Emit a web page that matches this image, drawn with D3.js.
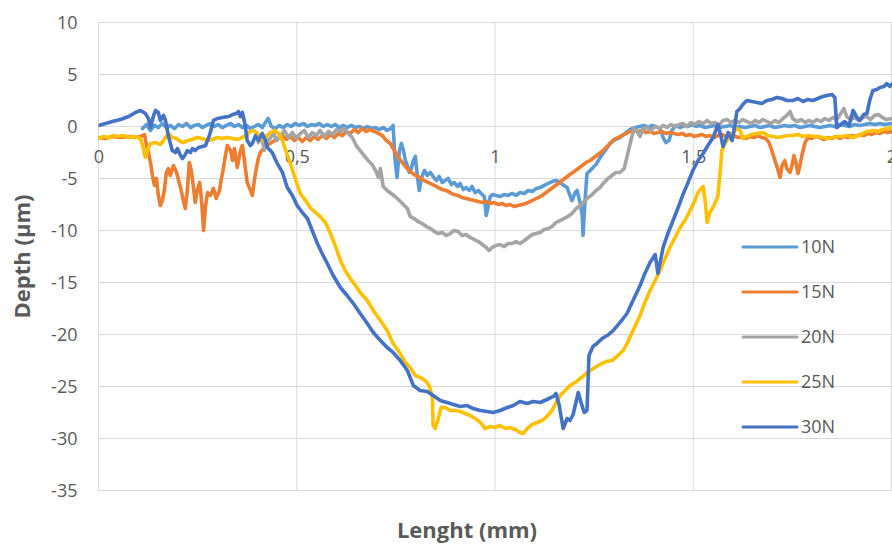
<!DOCTYPE html>
<html>
<head>
<meta charset="utf-8">
<script src="https://cdn.jsdelivr.net/npm/d3@7/dist/d3.min.js"></script>
<style>
  html, body { margin: 0; padding: 0; background: #ffffff; }
  svg { display: block; }
  text { font-family: "Open Sans", "Liberation Sans", sans-serif; }
</style>
</head>
<body>
<svg id="chart" width="892" height="544"></svg>
<script>
// ---- Data (length in mm, depth in µm) ----
const seriesNames = ["10N", "15N", "20N", "25N", "30N"];
const seriesColors = ["#5B9BD5", "#ED7D31", "#A5A5A5", "#FFC000", "#4472C4"];
const xTicks = [0, 0.5, 1, 1.5, 2];
const yTicks = [10, 5, 0, -5, -10, -15, -20, -25, -30, -35];

const s10N = [[0.111,-0.19],[0.121,0.19],[0.131,-0.38],[0.141,0.10],[0.151,-0.10],[0.161,0.29],[0.171,-0.10],[0.181,0.10],[0.192,-0.19],[0.202,0.19],[0.212,0],[0.222,0.29],[0.232,-0.10],[0.242,0.10],[0.252,0.19],[0.262,-0.10],[0.272,0.10],[0.282,0.29],[0.292,0],[0.302,0.19],[0.312,-0.10],[0.323,0.10],[0.333,0.29],[0.343,0],[0.353,0.19],[0.363,-0.10],[0.373,0.10],[0.383,-0.19],[0.393,0],[0.403,0.19],[0.413,-0.10],[0.421,0.38],[0.428,0.77],[0.436,0],[0.446,-0.19],[0.456,0.10],[0.466,-0.10],[0.476,0.19],[0.486,0],[0.496,0.29],[0.506,0.10],[0.517,0.29],[0.527,0],[0.537,0.19],[0.547,0.10],[0.557,0.29],[0.567,0],[0.577,0.19],[0.587,0],[0.597,0.19],[0.607,-0.10],[0.617,0.10],[0.627,-0.10],[0.638,0.10],[0.648,-0.10],[0.658,0],[0.668,-0.19],[0.678,0],[0.688,-0.19],[0.698,-0.10],[0.708,-0.29],[0.718,-0.10],[0.728,-0.38],[0.738,-0.19],[0.743,0.10],[0.748,-3.27],[0.753,-4.90],[0.759,-2.31],[0.764,-1.63],[0.769,-2.31],[0.774,-3.27],[0.779,-3.75],[0.784,-4.42],[0.789,-4.04],[0.794,-3.27],[0.799,-2.88],[0.804,-4.71],[0.809,-6.15],[0.814,-5.00],[0.822,-4.23],[0.829,-4.71],[0.837,-4.42],[0.844,-4.81],[0.852,-5.19],[0.859,-4.81],[0.867,-5.38],[0.874,-5.19],[0.882,-5.00],[0.890,-5.58],[0.897,-5.38],[0.905,-5.77],[0.912,-5.48],[0.920,-6.06],[0.927,-5.87],[0.935,-6.15],[0.942,-5.77],[0.950,-6.35],[0.958,-6.15],[0.965,-6.44],[0.973,-6.73],[0.978,-8.56],[0.983,-7.60],[0.988,-6.73],[0.995,-6.54],[1.003,-6.63],[1.013,-6.73],[1.023,-6.54],[1.033,-6.63],[1.043,-6.44],[1.053,-6.63],[1.063,-6.35],[1.074,-6.44],[1.084,-6.15],[1.094,-6.25],[1.104,-5.96],[1.114,-5.87],[1.124,-5.67],[1.134,-5.48],[1.144,-5.29],[1.154,-5.19],[1.164,-5.38],[1.174,-5.67],[1.182,-5.87],[1.189,-6.63],[1.194,-7.12],[1.202,-6.35],[1.207,-6.15],[1.215,-7.40],[1.220,-8.56],[1.222,-10.48],[1.227,-7.12],[1.232,-4.52],[1.240,-4.23],[1.247,-3.94],[1.255,-3.65],[1.265,-2.98],[1.278,-2.31],[1.290,-1.63],[1.303,-1.25],[1.315,-1.06],[1.328,-0.67],[1.341,-0.29],[1.353,-0.10],[1.366,0],[1.376,0.10],[1.386,-0.10],[1.396,0.10],[1.406,0],[1.416,-0.19],[1.424,-1.06],[1.431,-1.54],[1.439,-1.35],[1.446,-0.38],[1.456,0.10],[1.467,-0.10],[1.477,0.10],[1.487,0],[1.497,0.19],[1.507,0],[1.517,0.10],[1.530,-0.10],[1.542,0],[1.555,0.10],[1.567,-0.10],[1.580,0],[1.593,0.10],[1.605,-0.10],[1.618,0],[1.630,-0.10],[1.643,0],[1.656,0.10],[1.668,-0.10],[1.681,0],[1.693,0.10],[1.706,-0.10],[1.719,0],[1.731,0.10],[1.744,0],[1.756,0.10],[1.769,-0.10],[1.782,0],[1.794,0.10],[1.807,0],[1.819,-0.10],[1.832,0],[1.845,0.10],[1.857,0],[1.870,0.19],[1.882,0.10],[1.895,0],[1.907,0.19],[1.920,0.10],[1.933,0.19],[1.945,0.29],[1.958,0.19],[1.971,0.29],[1.983,0.19],[2.0,0.29]];

const s15N = [[0,-1.06],[0.018,-1.15],[0.035,-0.96],[0.055,-1.06],[0.076,-0.96],[0.093,-1.06],[0.106,-0.96],[0.116,-0.77],[0.121,-1.83],[0.126,-2.50],[0.131,-3.46],[0.136,-4.71],[0.141,-5.67],[0.146,-5.00],[0.151,-6.63],[0.156,-7.60],[0.161,-7.12],[0.166,-6.15],[0.171,-4.42],[0.176,-4.04],[0.181,-4.71],[0.189,-3.75],[0.197,-4.42],[0.202,-5.19],[0.207,-5.87],[0.214,-7.12],[0.219,-7.88],[0.224,-6.15],[0.229,-3.46],[0.234,-4.23],[0.239,-5.67],[0.244,-7.31],[0.249,-6.15],[0.255,-5.38],[0.260,-7.12],[0.265,-10.00],[0.270,-7.60],[0.275,-6.35],[0.282,-6.63],[0.290,-5.96],[0.297,-6.92],[0.305,-6.15],[0.310,-5.00],[0.315,-4.04],[0.320,-2.79],[0.325,-1.83],[0.333,-2.31],[0.338,-3.27],[0.343,-2.12],[0.350,-3.94],[0.358,-2.31],[0.363,-1.83],[0.368,-3.27],[0.375,-5.38],[0.383,-6.15],[0.388,-6.63],[0.393,-5.19],[0.398,-4.04],[0.403,-3.08],[0.408,-2.50],[0.416,-2.12],[0.423,-1.83],[0.433,-1.63],[0.444,-1.35],[0.454,-1.15],[0.464,-0.87],[0.474,-1.25],[0.484,-0.96],[0.494,-1.35],[0.504,-1.06],[0.514,-1.44],[0.524,-1.06],[0.534,-1.35],[0.544,-0.96],[0.554,-1.25],[0.564,-0.87],[0.575,-1.15],[0.585,-0.77],[0.595,-1.06],[0.605,-0.67],[0.615,-0.87],[0.625,-0.48],[0.635,-0.67],[0.645,-0.29],[0.655,-0.58],[0.665,-0.19],[0.675,-0.48],[0.685,-0.29],[0.696,-0.48],[0.706,-0.67],[0.716,-0.87],[0.726,-1.35],[0.736,-1.63],[0.746,-2.31],[0.756,-2.98],[0.766,-3.46],[0.776,-3.94],[0.786,-4.33],[0.796,-4.62],[0.806,-4.81],[0.816,-5.10],[0.827,-5.29],[0.837,-5.48],[0.847,-5.67],[0.857,-5.87],[0.867,-6.06],[0.877,-6.15],[0.887,-6.35],[0.897,-6.54],[0.907,-6.63],[0.917,-6.83],[0.927,-6.92],[0.937,-7.02],[0.948,-7.12],[0.958,-7.21],[0.968,-7.31],[0.978,-7.21],[0.988,-7.40],[0.998,-7.31],[1.008,-7.50],[1.018,-7.40],[1.028,-7.60],[1.038,-7.50],[1.048,-7.69],[1.058,-7.60],[1.068,-7.50],[1.079,-7.40],[1.089,-7.21],[1.099,-7.02],[1.109,-6.83],[1.119,-6.63],[1.129,-6.35],[1.139,-6.06],[1.149,-5.77],[1.159,-5.48],[1.169,-5.19],[1.179,-4.90],[1.189,-4.62],[1.200,-4.33],[1.210,-4.04],[1.220,-3.75],[1.230,-3.46],[1.240,-3.27],[1.250,-2.98],[1.260,-2.69],[1.270,-2.40],[1.280,-2.02],[1.290,-1.63],[1.300,-1.25],[1.310,-1.06],[1.320,-0.87],[1.331,-0.67],[1.341,-0.48],[1.351,-0.38],[1.361,-0.48],[1.371,-0.38],[1.381,-0.58],[1.391,-0.48],[1.401,-0.67],[1.411,-0.58],[1.421,-0.48],[1.431,-0.67],[1.441,-0.58],[1.452,-0.67],[1.462,-0.77],[1.472,-0.67],[1.482,-0.87],[1.492,-0.77],[1.502,-0.96],[1.512,-0.87],[1.522,-0.77],[1.532,-0.96],[1.542,-0.87],[1.552,-1.06],[1.562,-0.87],[1.572,-0.77],[1.583,-0.96],[1.593,-0.67],[1.603,-0.87],[1.613,-1.06],[1.623,-0.96],[1.633,-1.15],[1.643,-0.96],[1.653,-1.06],[1.663,-0.87],[1.673,-1.06],[1.683,-1.15],[1.691,-1.54],[1.698,-2.31],[1.706,-3.27],[1.714,-4.23],[1.719,-4.90],[1.724,-3.75],[1.731,-3.27],[1.736,-4.04],[1.744,-4.42],[1.749,-3.75],[1.754,-2.79],[1.759,-3.46],[1.764,-4.52],[1.769,-3.75],[1.774,-2.79],[1.782,-1.54],[1.789,-1.06],[1.799,-1.15],[1.809,-0.96],[1.819,-1.06],[1.830,-1.25],[1.840,-1.06],[1.850,-1.15],[1.860,-0.96],[1.870,-1.15],[1.880,-0.96],[1.890,-1.06],[1.900,-0.87],[1.910,-0.96],[1.920,-0.77],[1.930,-0.87],[1.940,-0.67],[1.950,-0.77],[1.960,-0.58],[1.971,-0.67],[1.981,-0.48],[1.991,-0.58],[2.0,-0.48]];

const s20N = [[0.403,-1.54],[0.411,-0.87],[0.418,-2.31],[0.426,-1.35],[0.433,-1.15],[0.441,-0.58],[0.449,-1.35],[0.459,-0.87],[0.469,-0.38],[0.479,-1.06],[0.489,-0.58],[0.499,-1.15],[0.509,-0.67],[0.519,-0.38],[0.529,-1.06],[0.539,-0.58],[0.549,-0.87],[0.559,-0.38],[0.570,-0.96],[0.580,-0.48],[0.590,-0.77],[0.600,-0.29],[0.610,-0.48],[0.620,-0.19],[0.630,-0.67],[0.640,-1.06],[0.650,-1.83],[0.660,-2.31],[0.670,-2.79],[0.680,-3.27],[0.690,-3.65],[0.701,-4.42],[0.706,-4.90],[0.711,-4.04],[0.718,-5.77],[0.728,-6.15],[0.738,-6.44],[0.748,-6.73],[0.759,-7.12],[0.769,-7.50],[0.779,-7.88],[0.786,-8.65],[0.796,-8.85],[0.806,-9.13],[0.816,-9.33],[0.827,-9.62],[0.837,-9.81],[0.847,-10.10],[0.857,-10.29],[0.867,-10.19],[0.877,-10.48],[0.887,-10.29],[0.897,-10.00],[0.907,-10.10],[0.917,-10.48],[0.927,-10.38],[0.937,-10.67],[0.948,-10.87],[0.958,-11.06],[0.968,-11.35],[0.978,-11.63],[0.985,-11.92],[0.993,-11.63],[1.003,-11.44],[1.013,-11.35],[1.023,-11.54],[1.033,-11.25],[1.043,-11.25],[1.053,-11.06],[1.063,-11.25],[1.074,-10.96],[1.084,-10.67],[1.094,-10.38],[1.104,-10.29],[1.114,-10.19],[1.124,-9.90],[1.134,-9.81],[1.144,-9.62],[1.154,-9.23],[1.164,-9.04],[1.174,-8.85],[1.184,-8.65],[1.194,-8.37],[1.205,-7.88],[1.215,-7.60],[1.225,-7.21],[1.235,-6.83],[1.245,-6.54],[1.255,-6.15],[1.265,-5.87],[1.275,-5.38],[1.285,-5.00],[1.295,-4.71],[1.305,-4.42],[1.315,-4.42],[1.326,-4.04],[1.333,-2.88],[1.341,-1.63],[1.346,-0.87],[1.351,-0.19],[1.358,-0.48],[1.366,-0.96],[1.373,-0.19],[1.383,-0.10],[1.393,-0.38],[1.404,0],[1.414,-0.19],[1.424,0.10],[1.434,-0.10],[1.444,0.19],[1.454,0],[1.464,0.19],[1.474,0.29],[1.484,0],[1.494,0.38],[1.504,0.19],[1.514,0.48],[1.525,0.29],[1.535,0.58],[1.545,0.29],[1.555,0.38],[1.565,0.10],[1.575,0.58],[1.585,0.67],[1.595,0.38],[1.605,0.58],[1.615,0.38],[1.625,0.67],[1.635,0.48],[1.646,0.29],[1.656,0.58],[1.666,0.38],[1.676,0.67],[1.686,0.48],[1.696,0.29],[1.706,0.58],[1.716,0.38],[1.726,0.77],[1.736,1.06],[1.744,1.44],[1.751,0.77],[1.761,0.48],[1.772,0.67],[1.782,0.38],[1.792,0.58],[1.802,0.38],[1.812,0.67],[1.822,0.48],[1.832,0.77],[1.842,0.58],[1.852,0.87],[1.862,0.67],[1.872,1.25],[1.880,1.73],[1.887,0.96],[1.897,0.67],[1.907,0.87],[1.917,0.58],[1.928,0.87],[1.938,0.96],[1.947,0.67],[1.957,1.06],[1.967,1.15],[1.977,0.87],[1.987,0.67],[2.0,0.77]];

const s25N = [[0,-1.15],[0.013,-0.96],[0.025,-1.06],[0.038,-0.87],[0.050,-0.96],[0.063,-0.87],[0.076,-1.06],[0.088,-0.96],[0.101,-1.06],[0.108,-1.35],[0.113,-2.12],[0.118,-2.98],[0.123,-2.31],[0.131,-1.63],[0.144,-1.54],[0.156,-1.73],[0.164,-1.35],[0.171,-0.96],[0.176,-0.67],[0.186,-1.06],[0.197,-1.15],[0.207,-1.44],[0.214,-1.54],[0.224,-1.35],[0.237,-1.25],[0.249,-1.06],[0.262,-1.15],[0.275,-1.35],[0.287,-1.25],[0.300,-1.06],[0.312,-1.15],[0.325,-1.06],[0.338,-1.15],[0.350,-1.25],[0.363,-1.06],[0.375,-0.77],[0.383,-0.48],[0.391,-0.38],[0.401,-0.67],[0.408,-1.06],[0.416,-1.35],[0.423,-0.96],[0.433,-0.58],[0.444,-0.38],[0.454,-0.67],[0.464,-1.35],[0.474,-2.50],[0.484,-3.56],[0.496,-5.00],[0.509,-6.44],[0.522,-7.12],[0.534,-7.79],[0.547,-8.27],[0.559,-8.65],[0.572,-9.23],[0.585,-10.29],[0.597,-11.44],[0.610,-12.88],[0.622,-13.85],[0.635,-14.62],[0.648,-15.29],[0.660,-15.96],[0.678,-16.73],[0.693,-17.69],[0.711,-18.65],[0.728,-19.62],[0.743,-20.87],[0.761,-21.83],[0.774,-22.69],[0.786,-23.17],[0.799,-23.94],[0.811,-24.13],[0.824,-24.42],[0.834,-24.90],[0.842,-26.06],[0.844,-28.75],[0.849,-29.04],[0.857,-28.08],[0.864,-27.02],[0.874,-27.02],[0.887,-27.31],[0.900,-27.31],[0.912,-27.40],[0.925,-27.60],[0.937,-27.79],[0.950,-28.08],[0.963,-28.46],[0.975,-29.04],[0.988,-28.85],[1.000,-28.94],[1.013,-28.75],[1.026,-29.04],[1.038,-28.94],[1.051,-29.13],[1.063,-29.42],[1.071,-29.52],[1.081,-29.04],[1.094,-28.65],[1.106,-28.46],[1.119,-28.27],[1.131,-27.88],[1.144,-27.31],[1.154,-26.54],[1.164,-25.87],[1.177,-25.38],[1.189,-24.90],[1.202,-24.62],[1.215,-24.23],[1.227,-23.85],[1.240,-23.46],[1.252,-23.17],[1.265,-22.88],[1.280,-22.60],[1.295,-22.50],[1.310,-22.02],[1.323,-21.54],[1.333,-20.87],[1.341,-20.19],[1.353,-19.23],[1.366,-18.17],[1.378,-16.92],[1.391,-15.77],[1.404,-14.81],[1.416,-13.85],[1.429,-12.69],[1.441,-11.63],[1.454,-10.67],[1.467,-9.71],[1.479,-9.04],[1.492,-8.08],[1.504,-7.12],[1.512,-6.35],[1.520,-5.96],[1.525,-5.77],[1.530,-7.12],[1.535,-9.23],[1.542,-8.27],[1.552,-7.60],[1.562,-6.73],[1.567,-4.71],[1.572,-2.31],[1.580,-1.63],[1.590,-1.06],[1.600,-0.67],[1.610,-0.19],[1.618,-0.38],[1.625,-1.15],[1.635,-0.96],[1.648,-0.77],[1.661,-0.67],[1.676,-0.58],[1.688,-0.87],[1.701,-0.96],[1.714,-1.06],[1.726,-0.96],[1.739,-0.87],[1.751,-0.87],[1.764,-0.77],[1.777,-0.96],[1.789,-0.87],[1.802,-0.96],[1.814,-0.96],[1.827,-1.06],[1.840,-1.15],[1.852,-1.06],[1.865,-0.96],[1.877,-0.96],[1.890,-0.87],[1.903,-1.06],[1.915,-0.87],[1.928,-0.67],[1.940,-0.48],[1.953,-0.38],[1.966,-0.48],[1.978,-0.29],[1.991,-0.19],[2.0,-0.10]];

const s30N = [[0,0.10],[0.018,0.29],[0.035,0.48],[0.055,0.67],[0.076,0.96],[0.093,1.35],[0.106,1.54],[0.118,1.25],[0.126,0.77],[0.131,-0.10],[0.139,1.06],[0.144,1.54],[0.151,1.35],[0.156,0.58],[0.164,1.06],[0.169,0.58],[0.176,-0.87],[0.186,-2.31],[0.194,-2.50],[0.199,-2.12],[0.207,-2.79],[0.212,-3.08],[0.219,-2.69],[0.224,-2.31],[0.232,-2.50],[0.237,-2.12],[0.244,-2.31],[0.252,-2.02],[0.262,-1.92],[0.270,-1.83],[0.277,-1.15],[0.282,-0.58],[0.290,0.58],[0.300,0.77],[0.312,0.87],[0.328,0.96],[0.338,1.15],[0.348,1.25],[0.353,1.44],[0.358,0.96],[0.363,1.35],[0.370,0.10],[0.375,-1.35],[0.383,-1.83],[0.388,-1.63],[0.396,-0.87],[0.403,-1.35],[0.413,-0.67],[0.421,-1.35],[0.426,-2.02],[0.438,-2.50],[0.451,-3.56],[0.464,-4.42],[0.476,-5.87],[0.489,-6.63],[0.501,-7.60],[0.514,-8.27],[0.527,-8.85],[0.539,-10.00],[0.552,-11.25],[0.564,-12.21],[0.577,-13.17],[0.592,-14.33],[0.610,-15.48],[0.627,-16.25],[0.643,-17.02],[0.660,-17.98],[0.678,-18.94],[0.693,-19.81],[0.711,-20.58],[0.728,-21.25],[0.743,-21.73],[0.761,-22.50],[0.779,-23.46],[0.794,-24.90],[0.811,-25.38],[0.829,-25.48],[0.844,-25.87],[0.862,-26.35],[0.879,-26.54],[0.895,-26.73],[0.912,-26.92],[0.930,-26.83],[0.945,-27.12],[0.963,-27.31],[0.980,-27.40],[0.995,-27.50],[1.013,-27.31],[1.031,-27.02],[1.046,-26.83],[1.063,-26.44],[1.081,-26.63],[1.096,-26.44],[1.114,-26.54],[1.131,-26.25],[1.147,-25.96],[1.154,-25.67],[1.162,-26.83],[1.172,-29.04],[1.182,-28.08],[1.189,-28.27],[1.197,-27.69],[1.210,-25.58],[1.217,-26.54],[1.225,-27.50],[1.232,-27.31],[1.237,-22.02],[1.247,-21.15],[1.257,-20.87],[1.270,-20.38],[1.283,-20.10],[1.298,-19.62],[1.315,-18.85],[1.333,-17.98],[1.348,-16.73],[1.366,-15.29],[1.378,-14.13],[1.391,-13.08],[1.404,-12.31],[1.411,-14.13],[1.424,-11.63],[1.436,-10.29],[1.449,-9.04],[1.462,-7.79],[1.474,-6.54],[1.487,-5.38],[1.499,-4.23],[1.512,-3.27],[1.525,-2.60],[1.537,-1.83],[1.550,-1.06],[1.557,-0.38],[1.562,0.19],[1.570,-0.96],[1.575,-1.92],[1.583,-1.15],[1.588,-0.58],[1.598,-1.35],[1.605,0.10],[1.610,1.44],[1.618,1.73],[1.625,2.12],[1.635,2.50],[1.648,2.40],[1.661,2.31],[1.673,2.21],[1.686,2.50],[1.698,2.60],[1.711,2.79],[1.724,2.69],[1.736,2.50],[1.751,2.50],[1.764,2.69],[1.777,2.40],[1.789,2.60],[1.802,2.50],[1.814,2.69],[1.827,2.88],[1.837,2.98],[1.850,3.08],[1.857,2.79],[1.862,-0.10],[1.872,0.19],[1.882,0.48],[1.893,0.10],[1.903,1.54],[1.913,0.87],[1.920,0.58],[1.930,1.15],[1.938,1.25],[1.945,2.50],[1.953,3.46],[1.963,3.56],[1.971,3.75],[1.981,3.85],[1.988,4.13],[1.996,3.85],[2.0,4.04]];

const seriesData = [s10N, s15N, s20N, s25N, s30N];

// ---- Layout ----
const svg = d3.select("#chart");
const plot = { left: 98.5, right: 891.5, top: 22.5, bottom: 490.5 };
const textColor = "#595959";
const gridColor = "#d9d9d9";
const font = '"Open Sans", "Liberation Sans", sans-serif';

const x = d3.scaleLinear().domain([0, 2]).range([plot.left, plot.right]);
const y = d3.scaleLinear().domain([-35, 10]).range([plot.bottom, plot.top]);

// Gridlines
const grid = svg.append("g");
grid.selectAll("line.h").data(yTicks).join("line")
  .attr("x1", plot.left).attr("x2", plot.right)
  .attr("y1", d => y(d)).attr("y2", d => y(d))
  .attr("stroke", gridColor).attr("stroke-width", 1);
grid.selectAll("line.v").data(xTicks).join("line")
  .attr("y1", plot.top).attr("y2", plot.bottom)
  .attr("x1", d => x(d)).attr("x2", d => x(d))
  .attr("stroke", gridColor).attr("stroke-width", 1);

// Y axis labels (plain hyphen minus, as in the reference)
const yAxis = d3.axisLeft(y).tickValues(yTicks).tickSize(0).tickPadding(21)
  .tickFormat(d => String(d));
const gy = svg.append("g").attr("transform", `translate(${plot.left},0)`).call(yAxis);
gy.select(".domain").remove();
gy.selectAll("text").attr("fill", textColor).style("font-size", "18px").style("font-family", font);

// X axis labels (at y = 0, comma decimals)
const xAxis = d3.axisBottom(x).tickValues(xTicks).tickSize(0).tickPadding(24)
  .tickFormat(d => String(d).replace(".", ","));
const gx = svg.append("g").attr("transform", `translate(0,${y(0)})`).call(xAxis);
gx.select(".domain").remove();
gx.selectAll("text").attr("fill", textColor).style("font-size", "18px").style("font-family", font);

// Lines
svg.append("clipPath").attr("id", "clip").append("rect")
  .attr("x", plot.left).attr("y", plot.top)
  .attr("width", plot.right - plot.left + 2).attr("height", plot.bottom - plot.top);

const line = d3.line().x(d => x(d[0])).y(d => y(d[1]));
const lines = svg.append("g").attr("clip-path", "url(#clip)");
seriesData.forEach((data, i) => {
  lines.append("path")
    .datum(data)
    .attr("d", line)
    .attr("fill", "none")
    .attr("stroke", seriesColors[i])
    .attr("stroke-width", 3.6)
    .attr("stroke-linejoin", "round")
    .attr("stroke-linecap", "round");
});

// Legend
const legend = svg.append("g");
seriesNames.forEach((name, i) => {
  const ly = 247 + i * 45;
  legend.append("line")
    .attr("x1", 743).attr("x2", 797).attr("y1", ly).attr("y2", ly)
    .attr("stroke", seriesColors[i]).attr("stroke-width", 3)
    .attr("stroke-linecap", "round");
  legend.append("text")
    .attr("x", 801).attr("y", ly).attr("dy", "0.36em")
    .attr("fill", textColor).style("font-size", "18px")
    .text(name);
});

// Axis titles
svg.append("text")
  .attr("transform", `translate(30,${(plot.top + plot.bottom) / 2}) rotate(-90)`)
  .attr("text-anchor", "middle")
  .attr("fill", textColor)
  .style("font-size", "22px").style("font-weight", "bold")
  .text("Depth (µm)");

svg.append("text")
  .attr("x", 467).attr("y", 538)
  .attr("text-anchor", "middle")
  .attr("fill", textColor)
  .style("font-size", "22px").style("font-weight", "bold")
  .text("Lenght (mm)");
</script>
</body>
</html>
